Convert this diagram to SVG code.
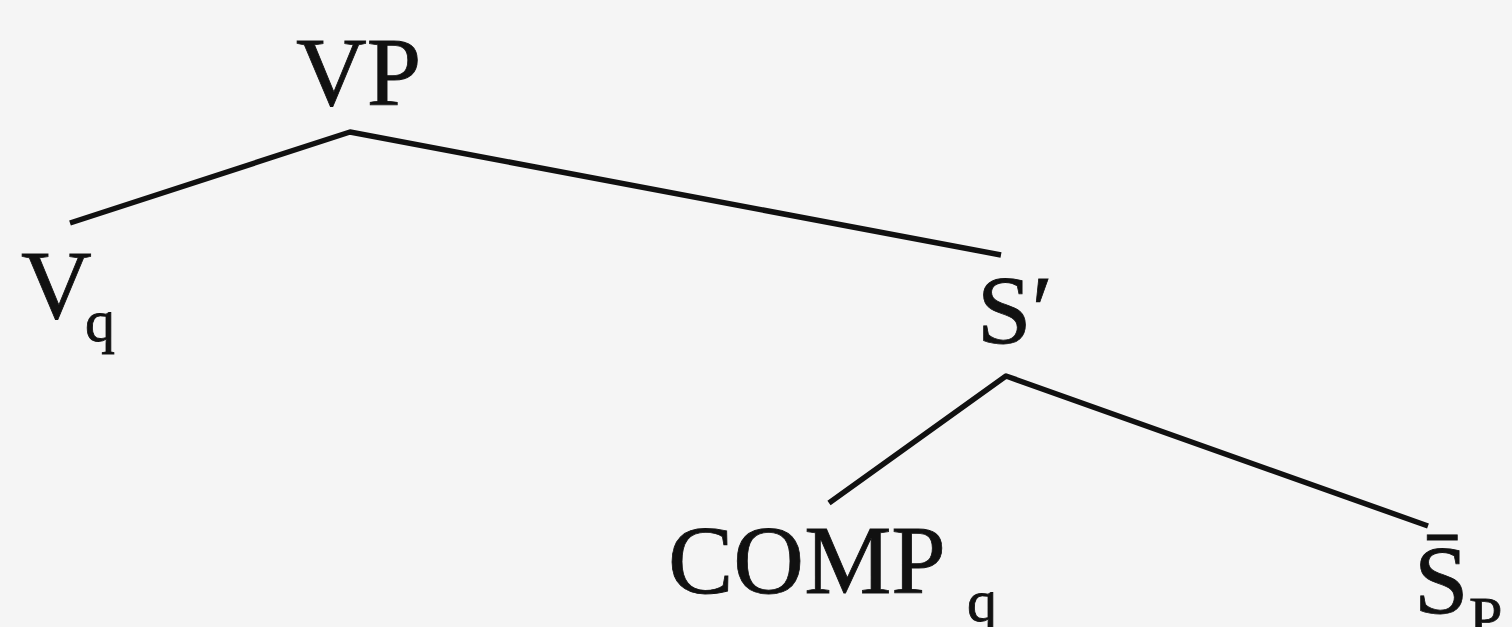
<svg xmlns="http://www.w3.org/2000/svg" width="1512" height="627" viewBox="0 0 1512 627">
<style>
.lbl{font-family:"Liberation Serif","Times New Roman",serif;font-size:98px;fill:#111;stroke:#111;stroke-width:0.8}
.sub{font-size:60px}
.edge{stroke:#111;stroke-width:5.5;fill:none;stroke-linecap:butt;stroke-linejoin:round}
</style>
<rect width="1512" height="627" fill="#f5f5f5"/>
<g id="connectors">
<polyline class="edge" points="70,223 350,132 1001,255"/>
<polyline class="edge" points="829,503 1006,376 1428,526"/>
</g>
<g id="node-VP"><text class="lbl" x="296" y="105">VP</text></g>
<g id="node-Vq"><text class="lbl" x="21" y="318">V<tspan class="sub" x="85" y="341">q</tspan></text></g>
<g id="node-Sbar"><text class="lbl" x="977" y="343">S′</text></g>
<g id="node-COMPq"><text class="lbl" x="668" y="593">COMP<tspan class="sub" x="967" y="621">q</tspan></text></g>
<g id="node-Sp"><text class="lbl" x="1414" y="613">S̄<tspan class="sub" x="1469" y="638">P</tspan></text></g>
</svg>
